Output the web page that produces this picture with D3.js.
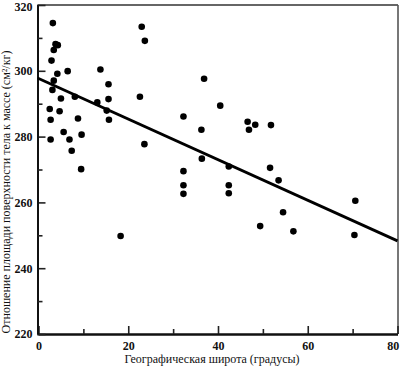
<!DOCTYPE html>
<html>
<head>
<meta charset="utf-8">
<script src="https://cdn.jsdelivr.net/npm/d3@7"></script>
<style>
  html, body { margin: 0; padding: 0; background: #fff; }
  svg { display: block; }
  text { font-family: "Liberation Serif", "Times New Roman", serif; fill: #111; }
</style>
</head>
<body>
<svg id="chart" width="400" height="366"></svg>
<script>
const latitude = [3.2, 3.8, 4.3, 3.4, 2.9, 4.2, 6.5, 13.8, 15.6, 3.4, 3.1, 5.0, 8.1, 13.1, 15.6,
  2.5, 4.7, 2.7, 8.8, 15.2, 15.7, 5.6, 6.9, 9.6, 2.7, 7.4, 9.5, 23.0, 23.7, 22.6, 23.6, 18.3,
  36.9, 40.5, 32.3, 36.3, 46.6, 48.3, 46.9, 51.8, 36.4, 42.4, 51.6, 32.3, 32.3, 32.3, 42.4, 42.4,
  49.4, 53.5, 70.6, 54.5, 56.8, 70.4];
const ratio = [314.5, 308.1, 307.8, 306.3, 303.1, 299.1, 299.9, 300.4, 295.9, 297.0, 294.2, 291.6, 292.1, 290.4, 291.4,
  288.4, 287.7, 285.1, 285.5, 287.9, 285.1, 281.4, 279.1, 280.6, 279.1, 275.7, 270.1, 313.4, 309.1, 292.1, 277.7, 249.8,
  297.6, 289.4, 286.1, 282.1, 284.5, 283.6, 282.1, 283.5, 273.3, 270.9, 270.5, 269.5, 265.2, 262.6, 265.2, 262.8,
  252.8, 266.7, 260.5, 257.0, 251.2, 250.1];
const trendX = [0, 80];
const trendY = [297.8, 248.3];
const xMajor = [0, 20, 40, 60, 80];
const xMinor = [10, 30, 50, 70];
const yMajor = [220, 240, 260, 280, 300, 320];
const yMinor = [230, 250, 270, 290, 310];
const xTitle = "Географическая широта (градусы)";
const yTitle = "Отношение площади поверхности тела к массе (см²/кг)";

const svg = d3.select("#chart");
const L = 37.5, R = 398, T = 5, B = 334;
const x = d3.scaleLinear().domain([0, 80]).range([38.5, 397.5]);
const y = d3.scaleLinear().domain([220, 320]).range([B, T]);

// frame (top and right)
svg.append("line").attr("x1", L).attr("x2", R).attr("y1", T).attr("y2", T)
  .attr("stroke", "#333").attr("stroke-width", 1.6);
svg.append("line").attr("x1", R).attr("x2", R).attr("y1", T).attr("y2", B)
  .attr("stroke", "#555").attr("stroke-width", 1.6);

// axes (inward ticks)
const gx = svg.append("g").attr("transform", `translate(0,${B})`);
gx.call(d3.axisBottom(x).tickValues(xMajor).tickSizeInner(-8).tickSizeOuter(0).tickPadding(7));
const gxm = svg.append("g").attr("transform", `translate(0,${B})`);
gxm.call(d3.axisBottom(x).tickValues(xMinor).tickSizeInner(-5).tickSizeOuter(0).tickFormat(""));
const gy = svg.append("g").attr("transform", `translate(${L},0)`);
gy.call(d3.axisLeft(y).tickValues(yMajor).tickSizeInner(-8).tickSizeOuter(0).tickPadding(5));
const gym = svg.append("g").attr("transform", `translate(${L},0)`);
gym.call(d3.axisLeft(y).tickValues(yMinor).tickSizeInner(-5).tickSizeOuter(0).tickFormat(""));

[gx, gxm, gy, gym].forEach(g => {
  g.select(".domain").attr("stroke", "#111").attr("stroke-width", 2);
  g.selectAll(".tick line").attr("stroke", "#222").attr("stroke-width", 1.6);
  g.selectAll(".tick text").attr("font-family", "Liberation Serif, serif")
    .attr("font-size", 12).attr("font-weight", "bold").attr("fill", "#222");
});
gx.select(".domain").attr("d", `M${L},0.5H${R}`);
gy.select(".domain").attr("d", `M0.5,${T}V${B}`);
// keep the edge labels inside the picture
gx.selectAll(".tick text").filter(d => d === 80).attr("text-anchor", "end").attr("dx", "0.1em");
gy.selectAll(".tick text").filter(d => d === 320).attr("dy", "0.45em");

// regression line
svg.append("line")
  .attr("x1", x(trendX[0]) - 1).attr("y1", y(trendY[0]))
  .attr("x2", x(trendX[1])).attr("y2", y(trendY[1]))
  .attr("stroke", "#000").attr("stroke-width", 2.8);

// points
svg.append("g").selectAll("circle")
  .data(latitude.map((d, i) => [d, ratio[i]]))
  .join("circle")
  .attr("cx", d => x(d[0])).attr("cy", d => y(d[1]))
  .attr("r", 3.3).attr("fill", "#000");

// titles
svg.append("text").attr("x", 212).attr("y", 363)
  .attr("text-anchor", "middle").attr("font-size", 12).text(xTitle);
svg.append("text").attr("transform", "translate(10,192) rotate(-90)")
  .attr("text-anchor", "middle").attr("font-size", 12).text(yTitle);
</script>
</body>
</html>
